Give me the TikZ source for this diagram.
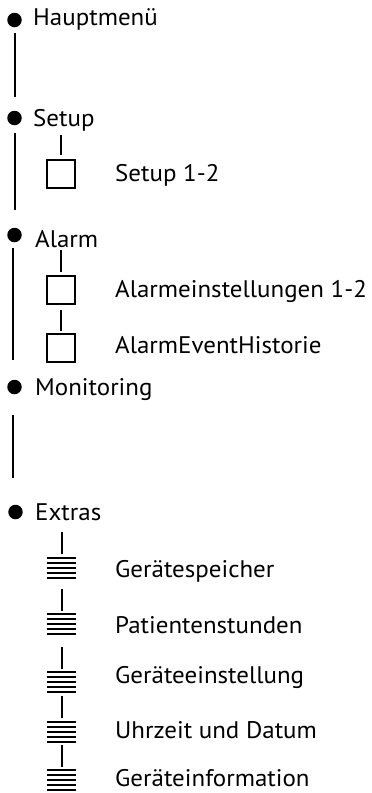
\documentclass[tikz,border=0pt]{standalone}
\usepackage{fontspec}
\setmainfont{PT Sans}[FakeStretch=1.04]
\begin{document}
\begin{tikzpicture}[x=1pt,y=-1pt,
  dot/.style={circle,fill=black,inner sep=0pt,minimum size=14.5pt},
  lbl/.style={anchor=base west,inner sep=0pt,font=\fontsize{24}{28}\selectfont},
  mainline/.style={line width=2pt},
  conn/.style={line width=2pt},
  sqbox/.style={draw,line width=2pt,minimum size=28pt,inner sep=0pt},
  stackbox/.style={minimum width=29pt,minimum height=20pt,inner sep=0pt},
  bar/.style={line width=2pt}]
\useasboundingbox (0,0) rectangle (372,793);

% main bullets
\node[dot] (hm)  at (14.5,20)  {};
\node[dot] (su)  at (14.5,118) {};
\node[dot] (al)  at (14.5,235) {};
\node[dot] (mo)  at (14.5,387) {};
\node[dot] (ex)  at (15.5,512) {};

\node[lbl] (thm) at (33,25)  {Hauptmenü};
\node[lbl] (tsu) at (33,126) {Setup};
\node[lbl] (tal) at (35,247) {Alarm};
\node[lbl] (tmo) at (35,395) {Monitoring};
\node[lbl] (tex) at (35,520) {Extras};

% main vertical lines
\draw[mainline] ([xshift=0.5pt,yshift=-6pt]hm.south) -- ([xshift=0.5pt,yshift=14pt]su.north);
\draw[mainline] ([xshift=0.5pt,yshift=-8pt]su.south) -- ([xshift=0.5pt,yshift=18pt]al.north);
\draw[mainline] ([xshift=-2pt,yshift=-6pt]al.south) -- ([xshift=-2pt,yshift=20pt]mo.north);
\draw[mainline] ([xshift=-2pt,yshift=-21pt]mo.south) -- ([xshift=-3pt,yshift=27pt]ex.north);

% setup sub item
\node[sqbox] (s1) at (61,173.5) {};
\node[lbl] (ts1) at (115,181) {Setup 1-2};
\draw[conn] ([yshift=4pt]s1.north) -- ++(0,-20);

% alarm sub items
\node[sqbox] (a1) at (61,289.5) {};
\node[sqbox] (a2) at (61,348) {};
\node[lbl] (ta1) at (115,297) {Alarmeinstellungen 1-2};
\node[lbl] (ta2) at (115,353) {AlarmEventHistorie};
\draw[conn] ([yshift=3pt]a1.north) -- ++(0,-22);
\draw[conn] ([yshift=2pt]a2.north) -- ([yshift=-5pt]a1.south);

% extras sub items
\foreach \n/\yc/\yb/\txt in {e1/567.5/577/Gerätespeicher,
                             e2/624/633/Patientenstunden,
                             e3/682/683/Geräteeinstellung,
                             e4/731.5/738/Uhrzeit und Datum,
                             e5/780/786/Geräteinformation}{
  \node[stackbox] (\n) at (61.5,\yc) {};
  \foreach \k in {-2,...,2}
    \draw[bar] ([yshift=\k*5pt]\n.west) -- ([yshift=\k*5pt]\n.east);
  \node[lbl] (t\n) at (115,\yb) {\txt};
  \draw[conn] ([yshift=3pt]\n.north) -- ++(0,-22);
}
\end{tikzpicture}
\end{document}
